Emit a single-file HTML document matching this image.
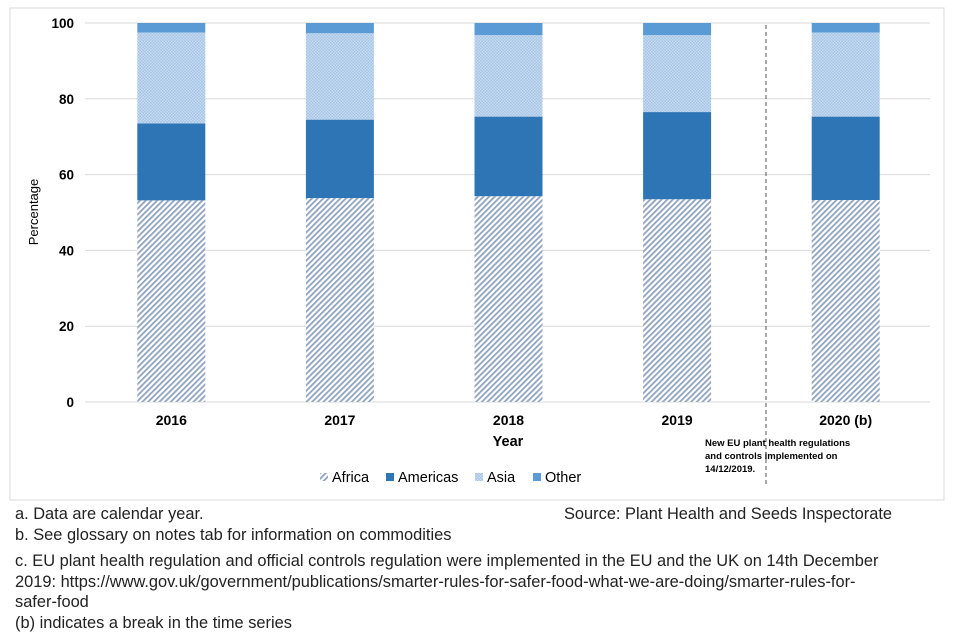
<!DOCTYPE html>
<html><head><meta charset="utf-8"><style>
body{margin:0;width:960px;height:640px;background:#fff;font-family:"Liberation Sans",sans-serif;overflow:hidden;position:relative}
.n{position:absolute;font-size:16.4px;color:#222;white-space:nowrap}
</style></head><body>
<svg width="960" height="640" style="position:absolute;left:0;top:0">
<defs>
<pattern id="diag" width="4" height="4" patternUnits="userSpaceOnUse" patternTransform="rotate(45)"><rect width="4" height="4" fill="#fff"/><rect width="1.8" height="4" fill="#8fa3bf"/></pattern>
<pattern id="dots" width="3" height="3" patternUnits="userSpaceOnUse"><rect width="3" height="3" fill="#c8dcf0"/><rect width="1.5" height="1.5" fill="#a3c4e6"/><rect x="1.5" y="1.5" width="1.5" height="1.5" fill="#a3c4e6"/></pattern>
</defs>
<rect x="10" y="8" width="934" height="492" fill="none" stroke="#d9d9d9"/>
<g id="grid"></g><g id="bars"></g><g id="xl"></g>
<line x1="766" y1="25" x2="766" y2="486" stroke="#555" stroke-dasharray="4,3"/>
<text x="38" y="212" transform="rotate(-90 38 212)" text-anchor="middle" font-size="13" fill="#000">Percentage</text>
<text x="508" y="446" text-anchor="middle" font-size="14.5" font-weight="bold" fill="#000">Year</text>
<g font-size="9.5" font-weight="bold" fill="#000">
<text x="705" y="446">New EU plant health regulations</text>
<text x="705" y="459">and controls implemented on</text>
<text x="705" y="472">14/12/2019.</text></g>
<g font-size="14.5" fill="#000">
<rect x="320" y="473" width="8" height="8" fill="url(#diag)"/><text x="332" y="482">Africa</text>
<rect x="386" y="473" width="8" height="8" fill="#2e75b6"/><text x="398" y="482">Americas</text>
<rect x="475" y="473" width="8" height="8" fill="url(#dots)"/><text x="487" y="482">Asia</text>
<rect x="533" y="473" width="8" height="8" fill="#5b9bd5"/><text x="545" y="482">Other</text>
</g>
</svg>
<div class="n" style="left:15px;top:505px">a. Data are calendar year.</div>
<div class="n" style="left:564px;top:505px">Source: Plant Health and Seeds Inspectorate</div>
<div class="n" style="left:15px;top:526px">b. See glossary on notes tab for information on commodities</div>
<div class="n" style="left:15px;top:551px;line-height:20.5px">c. EU plant health regulation and official controls regulation were implemented in the EU and the UK on 14th December<br>2019: https://www.gov.uk/government/publications/smarter-rules-for-safer-food-what-we-are-doing/smarter-rules-for-<br>safer-food<br>(b) indicates a break in the time series</div>
<script>
const years=["2016","2017","2018","2019","2020 (b)"];
const africa=[53.2,53.8,54.3,53.5,53.3];
const americas=[20.3,20.7,21.0,23.0,22.0];
const asia=[24.0,22.8,21.5,20.3,22.2];
const other=[2.5,2.7,3.2,3.2,2.5];
const yTicks=[0,20,40,60,80,100];
const NS="http://www.w3.org/2000/svg";
const y0=402,y1=23,xL=87,xR=930;
const ys=v=>y0-(y0-y1)*v/100;
const band=(xR-xL)/years.length;
const xc=i=>xL+band*(i+0.5);
function mk(t,a,p){const e=document.createElementNS(NS,t);for(const k in a)e.setAttribute(k,a[k]);p.appendChild(e);return e;}
const g=document.getElementById('grid');
yTicks.forEach(v=>{
 const l=mk('line',{x1:85,x2:xR,y1:ys(v),y2:ys(v),stroke:'#d9d9d9'},g);
 
 
 const t=mk('text',{x:74,y:ys(v)+5,'text-anchor':'end','font-size':13.5,'font-weight':'bold'},g);
 t.textContent=v;
 
 
});
const b=document.getElementById('bars'),xl=document.getElementById('xl');
const series=[[africa,'url(#diag)','africa'],[americas,'#2e75b6','americas'],[asia,'url(#dots)','asia'],[other,'#5b9bd5','other']];
years.forEach((yr,i)=>{
 let acc=0;const w=68;
 series.forEach(([arr,fill,nm])=>{
  const v=arr[i];
  const r=mk('rect',{x:xc(i)-w/2,y:ys(acc+v),width:w,height:ys(acc)-ys(acc+v),fill:fill},b);
  
  
  acc+=v;
 });
 const t=mk('text',{x:xc(i),y:425,'text-anchor':'middle','font-size':14,'font-weight':'bold'},xl);
 t.textContent=yr;
 
 
});
</script>
</body></html>
